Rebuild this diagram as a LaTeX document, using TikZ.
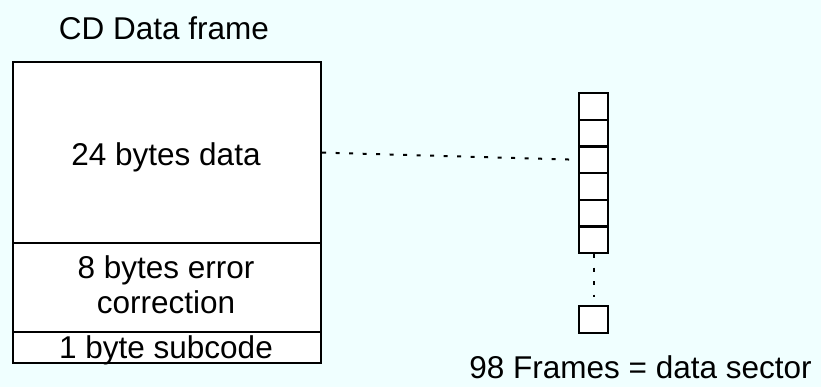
\documentclass[tikz,border=0pt]{standalone}
\usepackage{fontspec}
\setmainfont{Liberation Sans}
\definecolor{bgcyan}{RGB}{240,255,255}
\begin{document}
\begin{tikzpicture}[x=1pt,y=-1pt,
  lbl/.style={font=\fontsize{31.5}{35}\selectfont, inner sep=0pt, align=center},
  part/.style={draw=black, line width=2.2pt, fill=white, inner sep=0pt, minimum width=308pt, anchor=north west},
  cell/.style={draw=black, line width=2.2pt, fill=white, inner sep=0pt, minimum width=29pt, minimum height=26.7pt, anchor=north west},
  dotline/.style={line width=2pt, dash pattern=on 4pt off 9.5pt}]
\fill[bgcyan] (0,0) rectangle (821,387);
\useasboundingbox (0,0) rectangle (821,387);
\node[part, minimum height=181pt] (data) at (12,61) {};
\node[part, minimum height=89pt] (ecc) at (12,242) {};
\node[part, minimum height=31pt] (sub) at (12,331) {};
\node[lbl, anchor=base] (title) at (164,40) {CD Data frame};
\node[lbl, anchor=base] (datatxt) at (166,165.7) {24 bytes data};
\node[lbl] (ecctxt) at (166,284.5) {8 bytes error\\correction};
\node[lbl, anchor=base] (subtxt) at (166,358) {1 byte subcode};
\node[cell] (c1) at (578,92) {};
\node[cell] (c2) at (578,118.67) {};
\node[cell] (c3) at (578,145.33) {};
\node[cell] (c4) at (578,172) {};
\node[cell] (c5) at (578,198.67) {};
\node[cell] (c6) at (578,225.33) {};
\node[cell] (cl) at (578,305) {};
\node[lbl, anchor=base] (sector) at (640.5,378) {98 Frames = data sector};
\draw[dotline] (data.east) -- (c3.west);
\draw[dotline, shorten >=8pt] (c6.south) -- (cl.north);
\end{tikzpicture}
\end{document}
